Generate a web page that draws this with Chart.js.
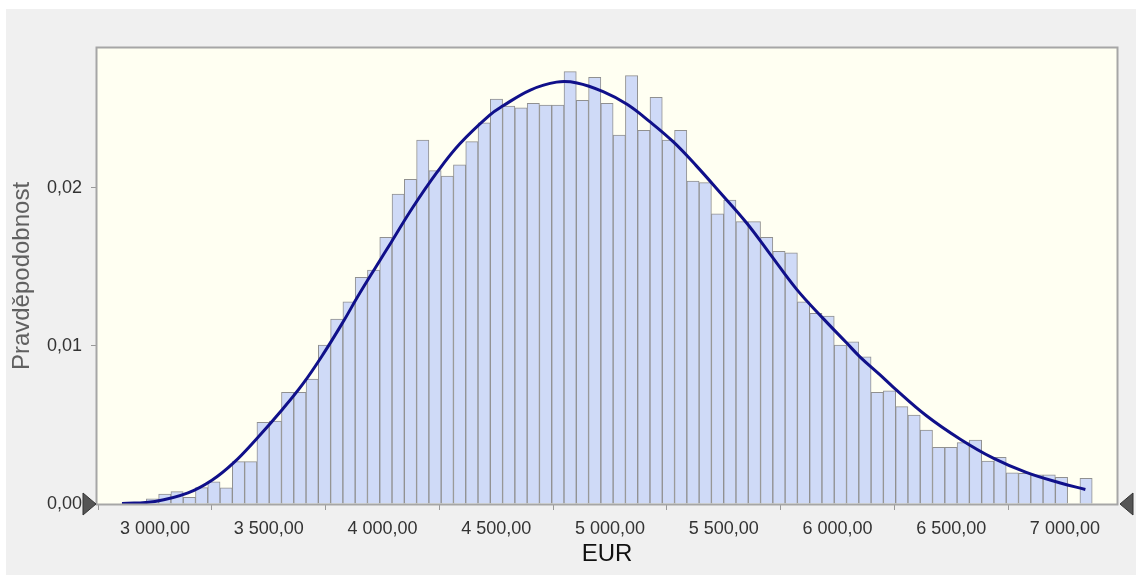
<!DOCTYPE html>
<html>
<head>
<meta charset="utf-8">
<script src="https://cdn.jsdelivr.net/npm/chart.js@4.4.0/dist/chart.umd.min.js"></script>
<style>
  html, body { margin: 0; padding: 0; background: #fff; }
  canvas { display: block; }
</style>
</head>
<body>
<canvas id="histChart" width="1136" height="577"></canvas>
<script>
// histogram bins (EUR)
const binStart = 2854;
const binWidth = 54;
const probabilities = [
  0.00005, 0.0001, 0.00033, 0.00062, 0.00078, 0.00042, 0.00104, 0.0014, 0.00103, 0.00268,
  0.00268, 0.00517, 0.00525, 0.00707, 0.00707, 0.00791, 0.01006, 0.01171, 0.0128, 0.01435,
  0.01481, 0.01688, 0.01962, 0.02055, 0.02304, 0.0211, 0.02076, 0.02146, 0.02293, 0.02413,
  0.02563, 0.02519, 0.02508, 0.02536, 0.02525, 0.02525, 0.02736, 0.02555, 0.027, 0.02536,
  0.02335, 0.02711, 0.02365, 0.02574, 0.02304, 0.02365, 0.02044, 0.02034, 0.01837, 0.01924,
  0.01787, 0.01787, 0.01688, 0.01599, 0.0159, 0.0128, 0.01207, 0.0119, 0.01006, 0.01027,
  0.00932, 0.00707, 0.00717, 0.00616, 0.00563, 0.00468, 0.00358, 0.00358, 0.00388, 0.00405,
  0.00272, 0.00296, 0.00198, 0.00194, 0.00184, 0.00184, 0.00169, 0, 0.00163
];

// fitted curve
const curveEur = [2855, 3000, 3145, 3250, 3345, 3445, 3555, 3650, 3740, 3830, 3890, 3975, 4040,
  4130, 4240, 4340, 4470, 4530, 4650, 4765, 4855, 4970, 5075, 5175, 5280, 5380, 5485, 5600,
  5705, 5820, 5940, 6040, 6100, 6185, 6245, 6390, 6540, 6685, 6830, 6980, 7090];
const curveProb = [0.00003, 0.00016, 0.0007, 0.0015, 0.0026, 0.0041, 0.0059, 0.0076, 0.0095,
  0.0116, 0.0131, 0.0151, 0.0166, 0.0187, 0.021, 0.0228, 0.0246, 0.0252, 0.0262, 0.0267,
  0.02665, 0.0261, 0.0253, 0.0242, 0.0229, 0.0214, 0.0197, 0.0178, 0.0158, 0.0136, 0.0117,
  0.0102, 0.0093, 0.0082, 0.0074, 0.0056, 0.0041, 0.0029, 0.002, 0.00133, 0.00092];

const xTicks = [3000, 3500, 4000, 4500, 5000, 5500, 6000, 6500, 7000];
const yTicks = [0, 0.01, 0.02];

const binCenters = probabilities.map((_, i) => binStart + binWidth * (i + 0.5));

function fmtEur(v) {
  const s = String(Math.round(v)).replace(/\B(?=(\d{3})+(?!\d))/g, " ");
  return s + ",00";
}

const framePlugin = {
  id: "frame",
  beforeDraw(chart) {
    const ctx = chart.ctx;
    const a = chart.chartArea;
    ctx.save();
    ctx.fillStyle = "#ffffff";
    ctx.fillRect(0, 0, chart.width, chart.height);
    ctx.fillStyle = "#f0f0f0";
    ctx.fillRect(6, 9, chart.width - 6, chart.height - 11);
    ctx.fillStyle = "#fffff2";
    ctx.fillRect(a.left, a.top, a.right - a.left, a.bottom - a.top);
    ctx.restore();
  },
  afterDraw(chart) {
    const ctx = chart.ctx;
    const a = chart.chartArea;
    const y0 = chart.scales.y.getPixelForValue(0);
    ctx.save();
    ctx.strokeStyle = "#a6a6a6";
    ctx.lineWidth = 2;
    ctx.strokeRect(a.left - 0.5, a.top - 0.5, a.right - a.left + 1, a.bottom - a.top + 1);
    // slider handles
    ctx.fillStyle = "#555555";
    ctx.strokeStyle = "#333333";
    ctx.lineWidth = 1;
    ctx.beginPath();
    ctx.moveTo(a.left - 14, y0 - 11);
    ctx.lineTo(a.left - 1, y0);
    ctx.lineTo(a.left - 14, y0 + 11);
    ctx.closePath();
    ctx.fill();
    ctx.stroke();
    ctx.beginPath();
    ctx.moveTo(a.right + 16, y0 - 11);
    ctx.lineTo(a.right + 3, y0);
    ctx.lineTo(a.right + 16, y0 + 11);
    ctx.closePath();
    ctx.fill();
    ctx.stroke();
    ctx.restore();
  }
};

new Chart(document.getElementById("histChart"), {
  type: "bar",
  data: {
    datasets: [
      {
        type: "line",
        data: curveEur.map((x, i) => ({ x: x, y: curveProb[i] })),
        borderColor: "#10108a",
        borderWidth: 3,
        pointRadius: 0,
        tension: 0.4,
        fill: false,
        order: 0
      },
      {
        type: "bar",
        data: binCenters.map((x, i) => ({ x: x, y: probabilities[i] })),
        backgroundColor: "#cfdaf7",
        borderColor: "#909090",
        borderWidth: 1,
        borderSkipped: "start",
        barPercentage: 1,
        categoryPercentage: 1,
        order: 1
      }
    ]
  },
  options: {
    responsive: false,
    animation: false,
    layout: { padding: { left: 0, top: 48, right: 19, bottom: 0 } },
    plugins: { legend: { display: false }, tooltip: { enabled: false } },
    scales: {
      x: {
        type: "linear",
        min: 2745,
        max: 7229,
        offset: false,
        afterFit(scale) { scale.height = 73; },
        afterBuildTicks(scale) { scale.ticks = xTicks.map(v => ({ value: v })); },
        grid: { drawOnChartArea: false, drawTicks: true, tickLength: 6, color: "#999999" },
        border: { display: false },
        ticks: {
          autoSkip: false,
          maxRotation: 0,
          padding: 8,
          color: "#333333",
          font: { family: "'Liberation Sans', Arial, sans-serif", size: 18 },
          callback: v => fmtEur(v)
        },
        title: {
          display: true,
          text: "EUR",
          color: "#111111",
          font: { family: "'Liberation Sans', Arial, sans-serif", size: 24 },
          padding: { top: 0, bottom: 8 }
        }
      },
      y: {
        min: 0,
        max: 0.02886,
        afterFit(scale) { scale.width = 97; },
        afterBuildTicks(scale) { scale.ticks = yTicks.map(v => ({ value: v })); },
        grid: { drawOnChartArea: false, drawTicks: true, tickLength: 6, color: "#999999" },
        border: { display: false },
        ticks: {
          padding: 9,
          color: "#333333",
          font: { family: "'Liberation Sans', Arial, sans-serif", size: 18 },
          callback: v => v.toFixed(2).replace(".", ",")
        },
        title: {
          display: true,
          text: "Pravděpodobnost",
          color: "#606060",
          font: { family: "'Liberation Sans', Arial, sans-serif", size: 24 },
          padding: { top: 8, bottom: 0 }
        }
      }
    }
  },
  plugins: [framePlugin]
});
</script>
</body>
</html>
